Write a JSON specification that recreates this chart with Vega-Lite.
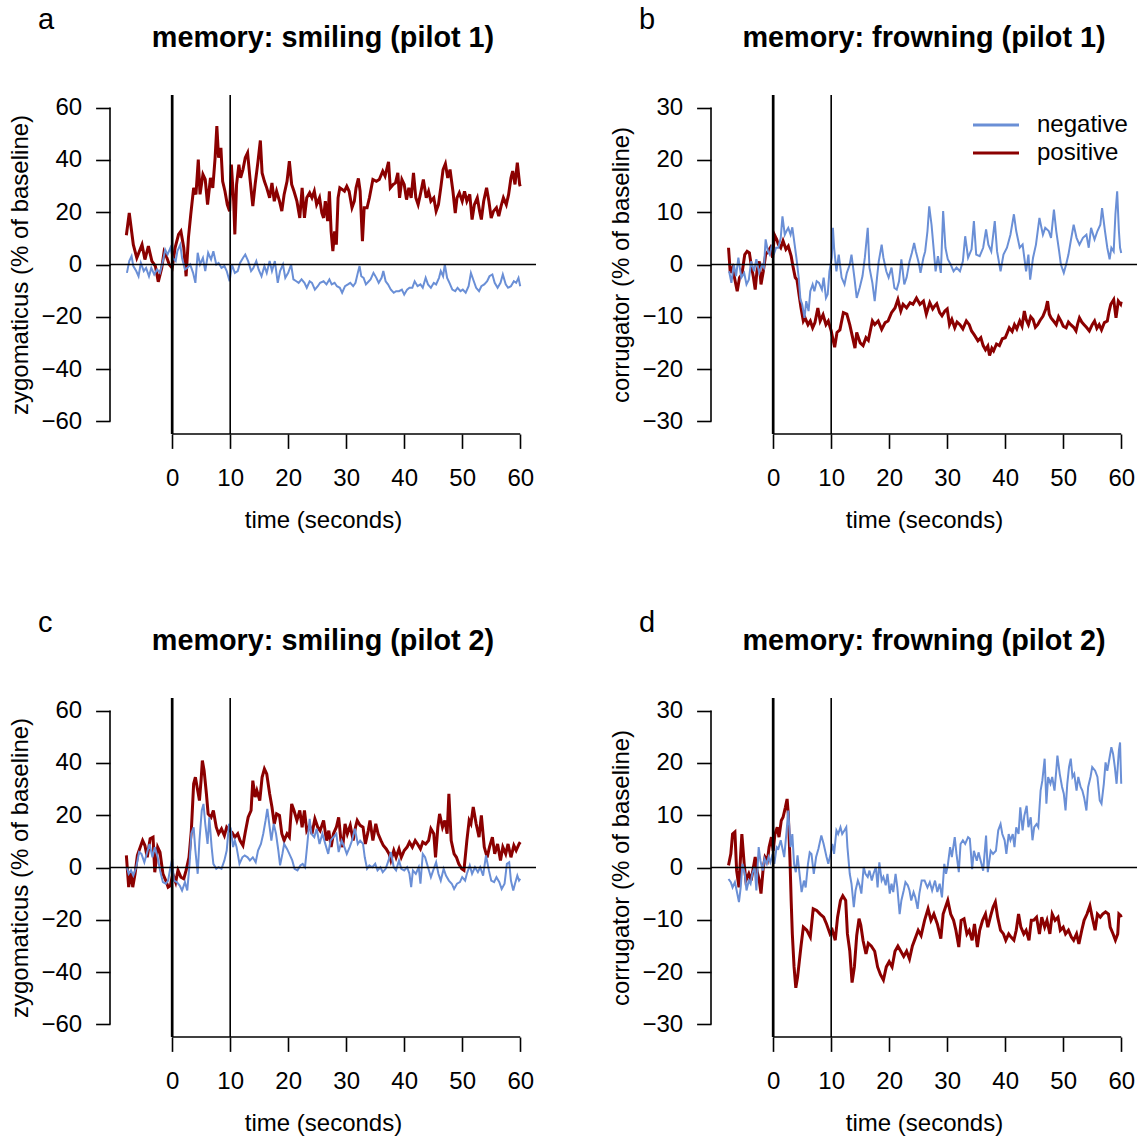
{
"$schema":"https://vega.github.io/schema/vega-lite/v6.json",
"background":"white",
"padding":{"left":8,"top":5,"right":0,"bottom":0},
"config":{
 "font":"Liberation Sans",
 "view":{"stroke":null},
 "axis":{"grid":false,"domain":false,"ticks":true,"tickColor":"black","tickWidth":1.6,"tickSize":14.4,"labelColor":"black","labelFontSize":24,"labelFont":"Liberation Sans","titleColor":"black","titleFontSize":24,"titleFontWeight":"normal","titleFont":"Liberation Sans","labelOverlap":false,"labelFlush":false},
 "axisX":{"labelPadding":18,"titlePadding":18},
 "axisY":{"labelPadding":14,"titlePadding":8}
},
"datasets":{
"aP":[{"t":-7.9,"v":11.2},{"t":-7.4,"v":19.7},{"t":-6.7,"v":7.6},{"t":-6.1,"v":2.5},{"t":-5.2,"v":7.6},{"t":-4.7,"v":1.9},{"t":-4.1,"v":7},{"t":-3.5,"v":1.3},{"t":-2.9,"v":-0.6},{"t":-2.4,"v":-6.6},{"t":-1.8,"v":-1.3},{"t":-1.4,"v":4.8},{"t":-0.9,"v":2.5},{"t":-0.5,"v":0},{"t":0,"v":-1.3},{"t":0.5,"v":6.4},{"t":1.1,"v":11.5},{"t":1.5,"v":12.7},{"t":2.0,"v":6.4},{"t":2.4,"v":-4.5},{"t":2.8,"v":10.2},{"t":3.2,"v":19.1},{"t":3.7,"v":29.3},{"t":4.1,"v":26.8},{"t":4.5,"v":40.1},{"t":4.8,"v":26.8},{"t":5.3,"v":34.4},{"t":5.7,"v":32.5},{"t":6.1,"v":22.9},{"t":6.6,"v":33.1},{"t":7.0,"v":29.3},{"t":7.4,"v":40.8},{"t":7.7,"v":52.9},{"t":8.0,"v":40.8},{"t":8.4,"v":44.6},{"t":8.7,"v":31.8},{"t":9.1,"v":28},{"t":9.5,"v":22.9},{"t":9.9,"v":20.4},{"t":10.2,"v":38.2},{"t":10.6,"v":24.2},{"t":10.8,"v":11.5},{"t":11.1,"v":30.6},{"t":11.5,"v":38.2},{"t":11.8,"v":33.1},{"t":12.2,"v":36.3},{"t":12.6,"v":40.8},{"t":13.0,"v":42.7},{"t":13.4,"v":33.1},{"t":13.9,"v":22.3},{"t":14.3,"v":30.6},{"t":14.8,"v":39.5},{"t":15.2,"v":47.4},{"t":15.5,"v":35},{"t":15.9,"v":31.8},{"t":16.3,"v":29.3},{"t":16.8,"v":25.5},{"t":17.2,"v":31.2},{"t":17.6,"v":24.2},{"t":18.0,"v":28},{"t":18.5,"v":24.2},{"t":18.9,"v":20.4},{"t":19.3,"v":26.8},{"t":19.8,"v":31.8},{"t":20.2,"v":39.5},{"t":20.6,"v":30.6},{"t":21.0,"v":28},{"t":21.5,"v":24.2},{"t":22.0,"v":17.8},{"t":22.4,"v":29.3},{"t":22.8,"v":17.8},{"t":23.2,"v":25.5},{"t":23.7,"v":27.4},{"t":24.1,"v":25.5},{"t":24.5,"v":28},{"t":24.9,"v":22.9},{"t":25.4,"v":25.5},{"t":25.8,"v":19.7},{"t":26.1,"v":17.8},{"t":26.4,"v":24.2},{"t":26.8,"v":16.6},{"t":27.1,"v":28},{"t":27.4,"v":12.7},{"t":27.7,"v":5.1},{"t":28.0,"v":12.7},{"t":28.3,"v":7.6},{"t":28.6,"v":25.5},{"t":28.9,"v":29.3},{"t":29.3,"v":28.7},{"t":29.7,"v":28},{"t":30.1,"v":29.9},{"t":30.5,"v":28},{"t":31.0,"v":21.7},{"t":31.4,"v":24.2},{"t":31.7,"v":29.3},{"t":32.1,"v":32.9},{"t":32.4,"v":28},{"t":32.8,"v":8.9},{"t":33.1,"v":21.7},{"t":33.6,"v":21.7},{"t":34.0,"v":25.5},{"t":34.6,"v":32.5},{"t":35.2,"v":31.8},{"t":35.7,"v":32.5},{"t":36.3,"v":35.7},{"t":36.7,"v":33.8},{"t":37.3,"v":39.2},{"t":37.6,"v":29.3},{"t":38.1,"v":30.6},{"t":38.5,"v":31.2},{"t":38.9,"v":35},{"t":39.2,"v":25.5},{"t":39.6,"v":32.5},{"t":40.0,"v":30.6},{"t":40.4,"v":24.8},{"t":40.8,"v":29.3},{"t":41.2,"v":25.5},{"t":41.6,"v":35},{"t":42.0,"v":25.5},{"t":42.4,"v":22.9},{"t":42.9,"v":28},{"t":43.3,"v":32.5},{"t":43.8,"v":25.5},{"t":44.2,"v":28},{"t":44.6,"v":24.2},{"t":45.1,"v":25.5},{"t":45.5,"v":20.4},{"t":45.9,"v":22.9},{"t":46.3,"v":29.3},{"t":46.7,"v":36.3},{"t":47.1,"v":38.5},{"t":47.5,"v":33.1},{"t":47.9,"v":36.3},{"t":48.4,"v":28},{"t":48.8,"v":19.7},{"t":49.1,"v":25.5},{"t":49.5,"v":27.4},{"t":50.0,"v":24.2},{"t":50.4,"v":28},{"t":50.8,"v":24.2},{"t":51.3,"v":26.8},{"t":51.7,"v":17.2},{"t":52.1,"v":22.9},{"t":52.6,"v":25.5},{"t":53.0,"v":20.4},{"t":53.3,"v":17.2},{"t":53.7,"v":24.2},{"t":54.2,"v":29.3},{"t":54.6,"v":24.2},{"t":55.0,"v":17.8},{"t":55.4,"v":20.4},{"t":55.9,"v":21.7},{"t":56.3,"v":18.5},{"t":56.7,"v":22.3},{"t":57.1,"v":25.5},{"t":57.6,"v":22.9},{"t":58.0,"v":26.8},{"t":58.4,"v":33.1},{"t":58.7,"v":35.7},{"t":59.1,"v":30.6},{"t":59.5,"v":38.9},{"t":59.9,"v":30.6},{"t":60.0,"v":29.9}],
"aN":[{"t":-7.8,"v":-3.2},{"t":-7.4,"v":1.3},{"t":-7.0,"v":3.2},{"t":-6.7,"v":-0.6},{"t":-6.2,"v":-2.5},{"t":-5.8,"v":-4.5},{"t":-5.4,"v":0.6},{"t":-4.9,"v":-2.5},{"t":-4.5,"v":-1.3},{"t":-4.0,"v":-4.5},{"t":-3.6,"v":-1.3},{"t":-3.1,"v":-3.8},{"t":-2.6,"v":-1.9},{"t":-2.1,"v":-3.2},{"t":-1.6,"v":1.3},{"t":-1.2,"v":5.7},{"t":-0.8,"v":3.8},{"t":-0.3,"v":6.4},{"t":0.1,"v":2.5},{"t":0.6,"v":1.3},{"t":0.9,"v":5.1},{"t":1.4,"v":7.6},{"t":1.7,"v":2.5},{"t":2.2,"v":-1.9},{"t":2.6,"v":-1.3},{"t":3.1,"v":0},{"t":3.6,"v":-3.2},{"t":4.0,"v":-7},{"t":4.4,"v":4.5},{"t":4.8,"v":0},{"t":5.3,"v":2.5},{"t":5.7,"v":-2.5},{"t":6.2,"v":4.5},{"t":6.7,"v":1.9},{"t":7.1,"v":5.1},{"t":7.6,"v":0},{"t":8.0,"v":0.6},{"t":8.5,"v":-1.3},{"t":9.0,"v":-0.6},{"t":9.4,"v":-2.5},{"t":9.9,"v":-6.4},{"t":10.3,"v":0},{"t":10.8,"v":-3.2},{"t":11.3,"v":-2.5},{"t":11.7,"v":0.6},{"t":12.2,"v":2.5},{"t":12.6,"v":3.8},{"t":13.1,"v":1.3},{"t":13.6,"v":-2.5},{"t":14.0,"v":-1.3},{"t":14.5,"v":1.3},{"t":14.9,"v":-1.9},{"t":15.4,"v":-4.5},{"t":15.9,"v":-0.6},{"t":16.3,"v":-3.2},{"t":16.8,"v":1.3},{"t":17.2,"v":-2.5},{"t":17.7,"v":1.3},{"t":18.2,"v":-7},{"t":18.6,"v":-2.5},{"t":19.1,"v":0},{"t":19.5,"v":-5.1},{"t":20.0,"v":-3.2},{"t":20.5,"v":0},{"t":20.9,"v":-5.7},{"t":21.4,"v":-6.4},{"t":21.8,"v":-7},{"t":22.3,"v":-5.7},{"t":22.8,"v":-7},{"t":23.2,"v":-8.9},{"t":23.7,"v":-6.4},{"t":24.1,"v":-7},{"t":24.6,"v":-9.6},{"t":25.1,"v":-8.3},{"t":25.5,"v":-7},{"t":26.1,"v":-6.4},{"t":26.6,"v":-7.6},{"t":27.1,"v":-5.7},{"t":27.5,"v":-7.6},{"t":28.0,"v":-7},{"t":28.4,"v":-8.3},{"t":28.9,"v":-8.9},{"t":29.3,"v":-10.8},{"t":29.8,"v":-8.3},{"t":30.3,"v":-7.6},{"t":30.7,"v":-7},{"t":31.2,"v":-8.3},{"t":31.6,"v":-7},{"t":32.0,"v":-3.2},{"t":32.3,"v":-0.6},{"t":32.6,"v":-4.5},{"t":33.0,"v":-5.1},{"t":33.4,"v":-7.6},{"t":33.9,"v":-6.4},{"t":34.2,"v":-5.7},{"t":34.7,"v":-3.2},{"t":35.2,"v":-5.1},{"t":35.6,"v":-7},{"t":36.1,"v":-5.1},{"t":36.4,"v":-2.5},{"t":36.8,"v":-6.4},{"t":37.2,"v":-7.6},{"t":37.7,"v":-9.6},{"t":38.2,"v":-10.8},{"t":38.6,"v":-10.2},{"t":39.1,"v":-10.2},{"t":39.6,"v":-9.6},{"t":40.0,"v":-11.5},{"t":40.5,"v":-9.6},{"t":40.9,"v":-8.9},{"t":41.4,"v":-8.9},{"t":41.8,"v":-6.4},{"t":42.3,"v":-8.3},{"t":42.8,"v":-7.6},{"t":43.2,"v":-8.9},{"t":43.7,"v":-5.1},{"t":44.1,"v":-7.6},{"t":44.6,"v":-8.9},{"t":45.1,"v":-7},{"t":45.5,"v":-7.6},{"t":46.0,"v":-5.1},{"t":46.3,"v":-2.5},{"t":46.7,"v":-4.5},{"t":47.0,"v":0},{"t":47.4,"v":-5.1},{"t":47.8,"v":-7},{"t":48.3,"v":-9.6},{"t":48.8,"v":-10.2},{"t":49.2,"v":-8.9},{"t":49.7,"v":-10.2},{"t":50.1,"v":-9.6},{"t":50.6,"v":-10.8},{"t":51.1,"v":-8.3},{"t":51.5,"v":-3.2},{"t":52.0,"v":-6.4},{"t":52.4,"v":-8.9},{"t":52.9,"v":-10.2},{"t":53.3,"v":-8.3},{"t":53.8,"v":-7.6},{"t":54.3,"v":-6.4},{"t":54.7,"v":-4.5},{"t":55.2,"v":-3.8},{"t":55.6,"v":-7},{"t":56.1,"v":-8.9},{"t":56.6,"v":-7},{"t":57.0,"v":-3.8},{"t":57.5,"v":-7.6},{"t":57.9,"v":-8.9},{"t":58.4,"v":-8.3},{"t":58.9,"v":-6.4},{"t":59.3,"v":-7},{"t":59.7,"v":-5.1},{"t":60.0,"v":-8.3}],
"bP":[{"t":-7.7,"v":3.2},{"t":-7.4,"v":-1.6},{"t":-7.0,"v":-0.6},{"t":-6.6,"v":-2.9},{"t":-6.2,"v":-5.1},{"t":-5.8,"v":-2.5},{"t":-5.4,"v":-1.9},{"t":-4.9,"v":1.9},{"t":-4.5,"v":2.5},{"t":-4.1,"v":2.2},{"t":-3.8,"v":0},{"t":-3.4,"v":-2.5},{"t":-3.1,"v":-4.8},{"t":-2.8,"v":-1.3},{"t":-2.4,"v":0.6},{"t":-2.1,"v":-3.8},{"t":-1.7,"v":-1.3},{"t":-1.3,"v":1.9},{"t":-0.9,"v":2.5},{"t":-0.5,"v":3.2},{"t":-0.1,"v":1.3},{"t":0.2,"v":5.7},{"t":0.6,"v":4.8},{"t":0.9,"v":3.8},{"t":1.3,"v":3.2},{"t":1.7,"v":4.5},{"t":2.2,"v":2.9},{"t":2.6,"v":3.5},{"t":3.1,"v":1.6},{"t":3.4,"v":-0.3},{"t":3.8,"v":-2.5},{"t":4.1,"v":-2.9},{"t":4.5,"v":-6.1},{"t":4.8,"v":-8.3},{"t":5.2,"v":-10.8},{"t":5.5,"v":-10.2},{"t":6.0,"v":-11.5},{"t":6.4,"v":-10.8},{"t":6.8,"v":-12.1},{"t":7.2,"v":-11.1},{"t":7.7,"v":-8.3},{"t":8.1,"v":-10.8},{"t":8.6,"v":-9.6},{"t":9.1,"v":-11.5},{"t":9.5,"v":-10.8},{"t":10.0,"v":-12.7},{"t":10.3,"v":-14.3},{"t":10.6,"v":-15.8},{"t":11.0,"v":-13},{"t":11.5,"v":-12.5},{"t":12.1,"v":-9.2},{"t":12.7,"v":-9.5},{"t":13.2,"v":-11.5},{"t":13.8,"v":-14.5},{"t":14.1,"v":-16},{"t":14.4,"v":-13},{"t":15.0,"v":-15},{"t":15.5,"v":-15.5},{"t":16.0,"v":-14},{"t":16.4,"v":-14.5},{"t":17.1,"v":-10.8},{"t":17.5,"v":-11.5},{"t":18.1,"v":-10.8},{"t":18.7,"v":-12.4},{"t":19.3,"v":-11.1},{"t":19.8,"v":-10.8},{"t":20.4,"v":-9.2},{"t":21.0,"v":-8.3},{"t":21.5,"v":-6.7},{"t":22.0,"v":-8.9},{"t":22.4,"v":-7.6},{"t":23.0,"v":-8.3},{"t":23.6,"v":-7.3},{"t":24.1,"v":-7.6},{"t":24.7,"v":-6.4},{"t":25.3,"v":-7.6},{"t":25.9,"v":-7},{"t":26.4,"v":-9.5},{"t":27.0,"v":-7.3},{"t":27.5,"v":-8.5},{"t":27.8,"v":-8},{"t":28.2,"v":-7.5},{"t":28.7,"v":-9.2},{"t":29.1,"v":-9.8},{"t":29.6,"v":-8.9},{"t":30.0,"v":-8.5},{"t":30.4,"v":-11.5},{"t":30.8,"v":-10.5},{"t":31.3,"v":-12.1},{"t":31.7,"v":-11},{"t":32.2,"v":-11.5},{"t":32.7,"v":-12.3},{"t":33.3,"v":-10.8},{"t":33.8,"v":-11.5},{"t":34.2,"v":-12.7},{"t":34.7,"v":-13.5},{"t":35.3,"v":-14.6},{"t":35.8,"v":-14},{"t":36.2,"v":-15.5},{"t":36.6,"v":-16.3},{"t":37.0,"v":-15.6},{"t":37.3,"v":-17.4},{"t":37.7,"v":-16},{"t":38.0,"v":-16.5},{"t":38.5,"v":-15.2},{"t":39.0,"v":-15.5},{"t":39.5,"v":-14.2},{"t":40.0,"v":-14},{"t":40.3,"v":-13.2},{"t":40.7,"v":-12.1},{"t":41.2,"v":-12.8},{"t":41.6,"v":-11.5},{"t":42.0,"v":-12.3},{"t":42.5,"v":-10.8},{"t":42.9,"v":-11.8},{"t":43.3,"v":-8.9},{"t":43.6,"v":-10.5},{"t":44.0,"v":-11.5},{"t":44.4,"v":-10},{"t":44.8,"v":-10.5},{"t":45.2,"v":-12},{"t":45.6,"v":-11.5},{"t":46.0,"v":-10.7},{"t":46.5,"v":-9.9},{"t":47.0,"v":-8.5},{"t":47.3,"v":-7},{"t":47.6,"v":-9.5},{"t":47.9,"v":-10.2},{"t":48.4,"v":-10.9},{"t":48.8,"v":-11.5},{"t":49.2,"v":-10},{"t":49.6,"v":-10.8},{"t":50.0,"v":-11.8},{"t":50.5,"v":-12.1},{"t":50.9,"v":-11},{"t":51.3,"v":-11.5},{"t":51.8,"v":-12},{"t":52.2,"v":-12.7},{"t":52.5,"v":-11.3},{"t":52.8,"v":-10.2},{"t":53.2,"v":-11},{"t":53.6,"v":-11.5},{"t":54.0,"v":-12},{"t":54.5,"v":-12.7},{"t":55.0,"v":-11.5},{"t":55.4,"v":-10.8},{"t":55.8,"v":-12.2},{"t":56.2,"v":-11.5},{"t":56.6,"v":-12.5},{"t":57.1,"v":-11.1},{"t":57.6,"v":-10.8},{"t":57.9,"v":-9},{"t":58.2,"v":-7.6},{"t":58.7,"v":-6.7},{"t":59.1,"v":-10.2},{"t":59.5,"v":-7},{"t":59.9,"v":-7.6},{"t":60.0,"v":-7.1}],
"bN":[{"t":-7.6,"v":-1.3},{"t":-7.2,"v":-3.5},{"t":-6.8,"v":0},{"t":-6.4,"v":-2.2},{"t":-6.0,"v":1.3},{"t":-5.5,"v":-2.5},{"t":-5.0,"v":-1.6},{"t":-4.6,"v":-3.8},{"t":-4.2,"v":-2.9},{"t":-3.8,"v":0.6},{"t":-3.3,"v":-1.3},{"t":-2.9,"v":1},{"t":-2.4,"v":-1.6},{"t":-1.9,"v":0},{"t":-1.6,"v":-0.6},{"t":-1.3,"v":4.8},{"t":-0.9,"v":2.5},{"t":-0.6,"v":1.9},{"t":-0.2,"v":3.8},{"t":0.1,"v":1.9},{"t":0.5,"v":3.2},{"t":0.9,"v":3.2},{"t":1.3,"v":5.1},{"t":1.6,"v":9.2},{"t":2.0,"v":5.7},{"t":2.3,"v":6.4},{"t":2.6,"v":7},{"t":3.0,"v":5.7},{"t":3.3,"v":7.1},{"t":3.7,"v":3.8},{"t":4.0,"v":1.3},{"t":4.4,"v":-2.5},{"t":4.7,"v":-6.7},{"t":5.0,"v":-7.6},{"t":5.4,"v":-10.2},{"t":5.7,"v":-7},{"t":6.1,"v":-8.9},{"t":6.4,"v":-5.1},{"t":6.8,"v":-3.8},{"t":7.1,"v":-5.1},{"t":7.5,"v":-3.2},{"t":7.9,"v":-3.5},{"t":8.4,"v":-4.8},{"t":8.7,"v":-2.5},{"t":9.1,"v":-6.4},{"t":9.4,"v":-5.7},{"t":9.7,"v":-1.3},{"t":10.1,"v":1.3},{"t":10.3,"v":7},{"t":10.5,"v":3.2},{"t":10.9,"v":-1.3},{"t":11.3,"v":1.9},{"t":11.8,"v":-2.5},{"t":12.3,"v":-3.8},{"t":12.7,"v":-1.6},{"t":13.2,"v":0},{"t":13.5,"v":1.9},{"t":14.0,"v":-2.5},{"t":14.4,"v":-6.4},{"t":14.9,"v":-4.5},{"t":15.4,"v":-2.2},{"t":15.8,"v":1.3},{"t":16.3,"v":7},{"t":16.6,"v":-0.6},{"t":17.1,"v":-3.5},{"t":17.5,"v":-7},{"t":17.9,"v":-2.5},{"t":18.2,"v":0.6},{"t":18.7,"v":3.8},{"t":19.0,"v":1.3},{"t":19.5,"v":-1.3},{"t":19.9,"v":-2.5},{"t":20.4,"v":-0.6},{"t":20.9,"v":-4.5},{"t":21.3,"v":-4.8},{"t":21.7,"v":-3.2},{"t":22.1,"v":1},{"t":22.6,"v":-3.8},{"t":23.0,"v":-2.5},{"t":23.5,"v":0.6},{"t":23.9,"v":2.2},{"t":24.3,"v":4.1},{"t":24.6,"v":2.5},{"t":25.1,"v":0.3},{"t":25.4,"v":-1.6},{"t":25.9,"v":1.3},{"t":26.2,"v":2.5},{"t":26.6,"v":6.4},{"t":26.9,"v":11.1},{"t":27.3,"v":7.6},{"t":27.6,"v":3.8},{"t":28.0,"v":-1.3},{"t":28.4,"v":1.6},{"t":28.9,"v":-1.6},{"t":29.3,"v":10.2},{"t":29.7,"v":3.2},{"t":30.1,"v":1},{"t":30.6,"v":0},{"t":31.1,"v":-1.3},{"t":31.6,"v":-0.6},{"t":32.2,"v":-1.3},{"t":32.7,"v":0.6},{"t":33.1,"v":5.4},{"t":33.6,"v":1.3},{"t":34.2,"v":2.9},{"t":34.6,"v":8.3},{"t":35.0,"v":1.9},{"t":35.6,"v":1.6},{"t":36.2,"v":3.2},{"t":36.7,"v":6.7},{"t":37.1,"v":3.8},{"t":37.6,"v":2.5},{"t":38.2,"v":8.3},{"t":38.6,"v":2.5},{"t":39.2,"v":-1.3},{"t":39.7,"v":1.9},{"t":40.3,"v":3.2},{"t":40.9,"v":5.7},{"t":41.5,"v":9.6},{"t":41.9,"v":6.4},{"t":42.5,"v":3.2},{"t":43.0,"v":3.8},{"t":43.6,"v":-1.3},{"t":44.0,"v":1.9},{"t":44.3,"v":-2.9},{"t":44.8,"v":1.3},{"t":45.3,"v":3.8},{"t":45.9,"v":8.9},{"t":46.5,"v":5.7},{"t":46.9,"v":7},{"t":47.5,"v":6.4},{"t":47.9,"v":5.1},{"t":48.4,"v":10.5},{"t":48.8,"v":6.4},{"t":49.3,"v":2.5},{"t":49.6,"v":0},{"t":50.1,"v":-1.6},{"t":50.5,"v":0},{"t":50.9,"v":1.9},{"t":51.3,"v":4.5},{"t":51.8,"v":7.6},{"t":52.3,"v":5.1},{"t":52.8,"v":3.8},{"t":53.4,"v":5.1},{"t":54.0,"v":5.7},{"t":54.4,"v":3.2},{"t":54.8,"v":7},{"t":55.4,"v":4.8},{"t":55.9,"v":6.4},{"t":56.4,"v":7.6},{"t":56.7,"v":10.8},{"t":57.2,"v":6.4},{"t":57.6,"v":3.2},{"t":58.0,"v":1},{"t":58.3,"v":3.2},{"t":58.7,"v":2.5},{"t":59.0,"v":9.6},{"t":59.3,"v":14},{"t":59.6,"v":6.4},{"t":59.8,"v":3.2},{"t":60.0,"v":2.2}],
"cP":[{"t":-7.9,"v":4.6},{"t":-7.5,"v":-7.5},{"t":-7.1,"v":-1.8},{"t":-6.8,"v":-7.5},{"t":-6.4,"v":-2.4},{"t":-6.0,"v":4.6},{"t":-5.5,"v":7.8},{"t":-5.1,"v":10.3},{"t":-4.7,"v":8.4},{"t":-4.3,"v":3.9},{"t":-3.8,"v":11},{"t":-3.3,"v":11.6},{"t":-3.0,"v":-1.8},{"t":-2.5,"v":7.8},{"t":-2.1,"v":5.9},{"t":-1.6,"v":-2.4},{"t":-1.1,"v":-5},{"t":-0.7,"v":-7.5},{"t":-0.3,"v":-6.9},{"t":0.1,"v":-2.4},{"t":0.6,"v":-5.6},{"t":1.0,"v":-1.1},{"t":1.5,"v":-3.7},{"t":2.0,"v":-4.3},{"t":2.4,"v":-1.1},{"t":2.9,"v":3.9},{"t":3.3,"v":14.1},{"t":3.7,"v":32},{"t":4.0,"v":34.5},{"t":4.4,"v":29.4},{"t":4.7,"v":25.6},{"t":5.0,"v":33.9},{"t":5.2,"v":40.9},{"t":5.5,"v":37.1},{"t":5.9,"v":28.2},{"t":6.2,"v":20.5},{"t":6.7,"v":19.2},{"t":7.1,"v":21.8},{"t":7.6,"v":15.4},{"t":8.0,"v":12.9},{"t":8.5,"v":14.8},{"t":9.0,"v":12.2},{"t":9.4,"v":15.4},{"t":9.9,"v":14.1},{"t":10.3,"v":13.5},{"t":10.8,"v":11.6},{"t":11.3,"v":12.9},{"t":11.7,"v":10.3},{"t":12.2,"v":8.4},{"t":12.6,"v":13.5},{"t":13.1,"v":19.2},{"t":13.6,"v":21.8},{"t":13.9,"v":33.2},{"t":14.3,"v":26.9},{"t":14.6,"v":29.4},{"t":15.1,"v":25.6},{"t":15.5,"v":34.5},{"t":15.9,"v":37.7},{"t":16.3,"v":35.8},{"t":16.8,"v":28.2},{"t":17.2,"v":23.1},{"t":17.6,"v":16.7},{"t":18.0,"v":20.5},{"t":18.5,"v":19.9},{"t":18.9,"v":12.9},{"t":19.3,"v":10.3},{"t":19.8,"v":12.9},{"t":20.2,"v":11.6},{"t":20.6,"v":24.3},{"t":21.0,"v":21.8},{"t":21.5,"v":18},{"t":22.0,"v":21.8},{"t":22.4,"v":15.4},{"t":22.8,"v":21.8},{"t":23.2,"v":14.1},{"t":23.7,"v":16.1},{"t":24.1,"v":12.9},{"t":24.6,"v":18.6},{"t":25.1,"v":15.4},{"t":25.5,"v":14.1},{"t":26.1,"v":18},{"t":26.6,"v":10.3},{"t":27.0,"v":14.1},{"t":27.4,"v":7.8},{"t":27.8,"v":12.9},{"t":28.3,"v":15.4},{"t":28.7,"v":19.2},{"t":29.1,"v":10.3},{"t":29.4,"v":7.8},{"t":29.8,"v":16.7},{"t":30.2,"v":12.9},{"t":30.7,"v":16.1},{"t":31.2,"v":10.3},{"t":31.6,"v":15.4},{"t":31.9,"v":18},{"t":32.4,"v":16.1},{"t":32.9,"v":15.4},{"t":33.3,"v":9},{"t":33.8,"v":14.1},{"t":34.1,"v":18},{"t":34.6,"v":10.3},{"t":35.1,"v":16.7},{"t":35.5,"v":12.9},{"t":36.0,"v":10.3},{"t":36.4,"v":8.4},{"t":36.9,"v":7.1},{"t":37.4,"v":5.2},{"t":37.7,"v":2.7},{"t":38.2,"v":6.5},{"t":38.6,"v":3.9},{"t":39.1,"v":7.1},{"t":39.5,"v":3.9},{"t":40.0,"v":6.5},{"t":40.5,"v":7.8},{"t":40.9,"v":9.7},{"t":41.4,"v":7.8},{"t":41.9,"v":10.3},{"t":42.3,"v":9},{"t":42.8,"v":7.1},{"t":43.2,"v":9.7},{"t":43.7,"v":9},{"t":44.2,"v":10.3},{"t":44.6,"v":14.8},{"t":45.1,"v":12.9},{"t":45.4,"v":3.9},{"t":45.8,"v":15.4},{"t":46.1,"v":20.5},{"t":46.6,"v":15.4},{"t":47.0,"v":18},{"t":47.4,"v":12.9},{"t":47.7,"v":28.2},{"t":48.1,"v":10.3},{"t":48.6,"v":5.2},{"t":49.0,"v":3.9},{"t":49.4,"v":1.4},{"t":49.9,"v":-0.5},{"t":50.3,"v":-1.1},{"t":50.8,"v":10.3},{"t":51.2,"v":18},{"t":51.5,"v":16.7},{"t":51.9,"v":23.1},{"t":52.4,"v":16.7},{"t":52.9,"v":11.6},{"t":53.3,"v":19.9},{"t":53.8,"v":7.8},{"t":54.3,"v":3.9},{"t":54.7,"v":7.8},{"t":55.2,"v":11.6},{"t":55.6,"v":5.2},{"t":56.1,"v":9},{"t":56.6,"v":2.7},{"t":57.0,"v":7.8},{"t":57.5,"v":5.2},{"t":57.9,"v":9},{"t":58.4,"v":3.9},{"t":58.9,"v":8.4},{"t":59.3,"v":6.5},{"t":59.8,"v":9},{"t":60.0,"v":9.7}],
"cN":[{"t":-7.8,"v":0.1},{"t":-7.5,"v":-2.4},{"t":-7.1,"v":-1.1},{"t":-6.7,"v":-3.1},{"t":-6.2,"v":0.1},{"t":-5.7,"v":5.9},{"t":-5.3,"v":5.2},{"t":-4.8,"v":2},{"t":-4.4,"v":5.2},{"t":-3.9,"v":9},{"t":-3.4,"v":3.9},{"t":-3.0,"v":7.8},{"t":-2.5,"v":3.9},{"t":-2.1,"v":-1.1},{"t":-1.6,"v":-5.6},{"t":-1.1,"v":-6.2},{"t":-0.7,"v":-5},{"t":-0.3,"v":0.1},{"t":0,"v":3.3},{"t":0.3,"v":-5},{"t":0.8,"v":-5.6},{"t":1.3,"v":-6.9},{"t":1.7,"v":-8.8},{"t":2.2,"v":-5.6},{"t":2.6,"v":-8.8},{"t":3.0,"v":1.4},{"t":3.3,"v":12.9},{"t":3.7,"v":15.4},{"t":4.0,"v":6.5},{"t":4.4,"v":-2.4},{"t":4.7,"v":10.3},{"t":5.1,"v":21.8},{"t":5.4,"v":24.3},{"t":5.7,"v":16.7},{"t":6.1,"v":9},{"t":6.4,"v":19.2},{"t":6.8,"v":7.8},{"t":7.1,"v":1.4},{"t":7.6,"v":-0.5},{"t":8.0,"v":0.1},{"t":8.5,"v":-0.5},{"t":9.0,"v":2.7},{"t":9.4,"v":6.5},{"t":9.8,"v":16.7},{"t":10.1,"v":14.8},{"t":10.5,"v":7.8},{"t":10.8,"v":10.3},{"t":11.1,"v":7.8},{"t":11.6,"v":1.4},{"t":12.1,"v":3.9},{"t":12.5,"v":4.6},{"t":13.0,"v":3.9},{"t":13.4,"v":2.7},{"t":13.9,"v":3.9},{"t":14.4,"v":2},{"t":14.8,"v":6.5},{"t":15.3,"v":9},{"t":15.7,"v":12.9},{"t":16.1,"v":18},{"t":16.4,"v":22.4},{"t":16.8,"v":15.4},{"t":17.1,"v":10.3},{"t":17.5,"v":16.7},{"t":17.9,"v":12.9},{"t":18.3,"v":6.5},{"t":18.6,"v":0.8},{"t":19.0,"v":5.2},{"t":19.3,"v":9},{"t":19.8,"v":7.1},{"t":20.2,"v":5.2},{"t":20.7,"v":2.7},{"t":21.1,"v":-0.5},{"t":21.6,"v":-1.1},{"t":22.1,"v":0.8},{"t":22.5,"v":1.4},{"t":22.9,"v":0.1},{"t":23.3,"v":9},{"t":23.7,"v":18.6},{"t":24.0,"v":12.9},{"t":24.5,"v":11.6},{"t":24.9,"v":14.8},{"t":25.4,"v":9},{"t":25.9,"v":12.9},{"t":26.4,"v":9},{"t":26.9,"v":5.2},{"t":27.3,"v":10.3},{"t":27.8,"v":11.6},{"t":28.3,"v":12.9},{"t":28.7,"v":5.9},{"t":29.2,"v":10.3},{"t":29.7,"v":7.8},{"t":30.1,"v":5.2},{"t":30.6,"v":7.8},{"t":31.0,"v":10.3},{"t":31.5,"v":14.8},{"t":32.0,"v":9},{"t":32.4,"v":10.3},{"t":32.9,"v":9},{"t":33.2,"v":3.9},{"t":33.6,"v":-0.5},{"t":34.0,"v":0.8},{"t":34.5,"v":0.1},{"t":35.0,"v":1.4},{"t":35.4,"v":-1.1},{"t":35.9,"v":0.1},{"t":36.3,"v":-1.8},{"t":36.8,"v":-0.5},{"t":37.3,"v":2.7},{"t":37.7,"v":5.9},{"t":38.2,"v":0.1},{"t":38.6,"v":-1.1},{"t":39.1,"v":2.7},{"t":39.5,"v":-0.5},{"t":40.0,"v":-1.1},{"t":40.5,"v":0.1},{"t":40.9,"v":-2.4},{"t":41.2,"v":-7.5},{"t":41.5,"v":-1.1},{"t":42.0,"v":-2.4},{"t":42.5,"v":0.1},{"t":42.8,"v":-6.2},{"t":43.2,"v":5.2},{"t":43.6,"v":3.9},{"t":44.1,"v":0.1},{"t":44.6,"v":-3.7},{"t":45.0,"v":-1.1},{"t":45.5,"v":2},{"t":45.9,"v":-2.4},{"t":46.3,"v":-5},{"t":46.8,"v":-0.5},{"t":47.2,"v":-3.1},{"t":47.7,"v":-5},{"t":48.2,"v":-6.2},{"t":48.6,"v":-8.2},{"t":49.1,"v":-6.2},{"t":49.6,"v":-5.6},{"t":50.0,"v":-3.7},{"t":50.5,"v":-5},{"t":50.8,"v":-2.4},{"t":51.3,"v":0.8},{"t":51.7,"v":-2.4},{"t":52.2,"v":0.1},{"t":52.7,"v":-1.8},{"t":53.1,"v":0.1},{"t":53.6,"v":-3.1},{"t":54.1,"v":4.6},{"t":54.6,"v":-1.1},{"t":55.0,"v":-5},{"t":55.5,"v":-5.6},{"t":55.9,"v":-3.7},{"t":56.4,"v":-5.6},{"t":56.8,"v":-8.2},{"t":57.3,"v":-6.2},{"t":57.7,"v":1.4},{"t":58.1,"v":2},{"t":58.4,"v":-5},{"t":58.8,"v":-8.8},{"t":59.1,"v":-6.2},{"t":59.5,"v":-3.1},{"t":59.8,"v":-5},{"t":60.0,"v":-4.3}],
"dP":[{"t":-7.7,"v":0.4},{"t":-7.3,"v":2.6},{"t":-7.0,"v":6.4},{"t":-6.6,"v":6.8},{"t":-6.3,"v":-0.6},{"t":-5.9,"v":-3.8},{"t":-5.6,"v":2.6},{"t":-5.4,"v":6.4},{"t":-5.0,"v":0.7},{"t":-4.7,"v":-2.5},{"t":-4.2,"v":-1.2},{"t":-3.8,"v":-2.5},{"t":-3.4,"v":0.1},{"t":-3.1,"v":2},{"t":-2.8,"v":-0.6},{"t":-2.4,"v":-2.5},{"t":-2.1,"v":-5},{"t":-1.7,"v":0.1},{"t":-1.4,"v":2},{"t":-1.0,"v":1.3},{"t":-0.7,"v":3.9},{"t":-0.3,"v":5.8},{"t":0,"v":3.2},{"t":0.3,"v":6.4},{"t":0.7,"v":7.7},{"t":1.0,"v":5.8},{"t":1.4,"v":9},{"t":1.7,"v":9.6},{"t":2.1,"v":11.5},{"t":2.4,"v":13.1},{"t":2.6,"v":10.3},{"t":2.9,"v":1.3},{"t":3.1,"v":-6.3},{"t":3.3,"v":-12.7},{"t":3.6,"v":-19},{"t":3.9,"v":-23},{"t":4.2,"v":-21},{"t":4.5,"v":-18},{"t":4.8,"v":-15},{"t":5.2,"v":-11.4},{"t":5.8,"v":-12},{"t":6.4,"v":-13.3},{"t":6.9,"v":-7.9},{"t":7.5,"v":-8.2},{"t":8.1,"v":-8.9},{"t":8.7,"v":-9.5},{"t":9.2,"v":-10.8},{"t":9.8,"v":-12.7},{"t":10.2,"v":-12},{"t":10.7,"v":-13.9},{"t":11.1,"v":-9.5},{"t":11.6,"v":-6.3},{"t":12.0,"v":-5.4},{"t":12.5,"v":-6.3},{"t":12.8,"v":-12.7},{"t":13.2,"v":-15.9},{"t":13.6,"v":-22},{"t":14.0,"v":-19},{"t":14.4,"v":-13},{"t":14.8,"v":-9.8},{"t":15.1,"v":-11},{"t":15.5,"v":-14},{"t":16.0,"v":-16.5},{"t":16.4,"v":-14.5},{"t":16.9,"v":-15},{"t":17.5,"v":-16},{"t":18.0,"v":-19},{"t":18.5,"v":-20.5},{"t":19.0,"v":-21.5},{"t":19.5,"v":-19},{"t":20.0,"v":-18},{"t":20.5,"v":-19},{"t":21.0,"v":-16},{"t":21.5,"v":-15},{"t":22.0,"v":-16},{"t":22.5,"v":-17},{"t":23.0,"v":-16},{"t":23.5,"v":-17.5},{"t":24.0,"v":-15},{"t":24.5,"v":-13.5},{"t":25.0,"v":-12},{"t":25.5,"v":-13},{"t":26.1,"v":-10.1},{"t":26.7,"v":-7.9},{"t":27.2,"v":-10.1},{"t":27.7,"v":-8.9},{"t":28.3,"v":-10.8},{"t":28.9,"v":-13.6},{"t":29.3,"v":-8.9},{"t":29.7,"v":-7.6},{"t":30.1,"v":-6.3},{"t":30.6,"v":-8.9},{"t":31.1,"v":-10.1},{"t":31.5,"v":-12},{"t":32.0,"v":-15.2},{"t":32.4,"v":-10.1},{"t":32.9,"v":-9.8},{"t":33.4,"v":-12.7},{"t":33.8,"v":-12},{"t":34.3,"v":-13.9},{"t":34.7,"v":-10.8},{"t":35.2,"v":-15.2},{"t":35.6,"v":-12},{"t":36.1,"v":-10.1},{"t":36.6,"v":-8.9},{"t":37.0,"v":-11.4},{"t":37.5,"v":-9.2},{"t":37.9,"v":-7.6},{"t":38.3,"v":-6.6},{"t":38.7,"v":-9.5},{"t":39.2,"v":-12},{"t":39.7,"v":-12.7},{"t":40.1,"v":-13.9},{"t":40.6,"v":-12.7},{"t":41.0,"v":-13.3},{"t":41.5,"v":-13.9},{"t":41.9,"v":-12},{"t":42.3,"v":-8.9},{"t":42.7,"v":-11.4},{"t":43.2,"v":-12.7},{"t":43.6,"v":-12},{"t":44.1,"v":-13.9},{"t":44.5,"v":-10.1},{"t":44.9,"v":-10.1},{"t":45.4,"v":-9.5},{"t":45.9,"v":-12.7},{"t":46.3,"v":-9.5},{"t":46.8,"v":-11.4},{"t":47.2,"v":-10.1},{"t":47.7,"v":-12.7},{"t":48.1,"v":-8.9},{"t":48.6,"v":-10.1},{"t":49.1,"v":-9.5},{"t":49.5,"v":-12},{"t":50.0,"v":-11.4},{"t":50.4,"v":-12.7},{"t":50.9,"v":-12},{"t":51.4,"v":-13.3},{"t":51.8,"v":-13.9},{"t":52.3,"v":-12.7},{"t":52.7,"v":-14.6},{"t":53.2,"v":-12},{"t":53.6,"v":-10.1},{"t":54.1,"v":-8.9},{"t":54.6,"v":-7.3},{"t":55.0,"v":-9.5},{"t":55.5,"v":-12},{"t":55.9,"v":-8.9},{"t":56.4,"v":-9.5},{"t":56.8,"v":-8.9},{"t":57.3,"v":-8.5},{"t":57.8,"v":-8.9},{"t":58.1,"v":-11.4},{"t":58.6,"v":-12.7},{"t":59.0,"v":-13.9},{"t":59.4,"v":-12.7},{"t":59.6,"v":-8.9},{"t":59.9,"v":-9.2},{"t":60.0,"v":-9.5}],
"dN":[{"t":-7.7,"v":-2.2},{"t":-7.3,"v":-2.8},{"t":-7.0,"v":-3.8},{"t":-6.6,"v":-2.8},{"t":-6.3,"v":-4.4},{"t":-5.9,"v":-6.6},{"t":-5.6,"v":-3.8},{"t":-5.3,"v":0.7},{"t":-4.9,"v":-1.2},{"t":-4.6,"v":-4.4},{"t":-4.2,"v":-2.5},{"t":-3.9,"v":-3.1},{"t":-3.6,"v":-1.2},{"t":-3.2,"v":0.1},{"t":-2.9,"v":-4.4},{"t":-2.5,"v":3.9},{"t":-2.2,"v":1.3},{"t":-1.8,"v":-0.6},{"t":-1.5,"v":1.7},{"t":-1.1,"v":0.7},{"t":-0.8,"v":2},{"t":-0.5,"v":1},{"t":-0.1,"v":2.6},{"t":0.2,"v":0.7},{"t":0.6,"v":3.9},{"t":0.9,"v":3.6},{"t":1.3,"v":5.2},{"t":1.6,"v":3.6},{"t":1.9,"v":2},{"t":2.3,"v":6.8},{"t":2.6,"v":10.9},{"t":3.0,"v":3.9},{"t":3.3,"v":6.4},{"t":3.6,"v":0.7},{"t":3.9,"v":-0.9},{"t":4.2,"v":2.3},{"t":4.6,"v":-1.8},{"t":4.9,"v":-4.7},{"t":5.3,"v":-2.5},{"t":5.6,"v":-3.8},{"t":6.0,"v":0.7},{"t":6.3,"v":2.9},{"t":6.6,"v":2.6},{"t":7.0,"v":-1.2},{"t":7.4,"v":2},{"t":7.8,"v":3.6},{"t":8.3,"v":6.1},{"t":8.7,"v":4.5},{"t":9.2,"v":2},{"t":9.5,"v":0.7},{"t":9.9,"v":2.6},{"t":10.2,"v":4.5},{"t":10.5,"v":2.6},{"t":10.9,"v":7.1},{"t":11.2,"v":6.4},{"t":11.6,"v":7.7},{"t":11.9,"v":6.4},{"t":12.3,"v":7.1},{"t":12.6,"v":7.7},{"t":12.8,"v":3.9},{"t":13.2,"v":-1.2},{"t":13.5,"v":-3.1},{"t":13.9,"v":-7.6},{"t":14.2,"v":-4.4},{"t":14.6,"v":-2.5},{"t":14.9,"v":-3.4},{"t":15.2,"v":-5},{"t":15.6,"v":0.1},{"t":15.9,"v":-1.2},{"t":16.3,"v":-1.8},{"t":16.6,"v":-0.6},{"t":17.0,"v":-2.5},{"t":17.3,"v":-1.2},{"t":17.7,"v":0.1},{"t":18.0,"v":-3.8},{"t":18.3,"v":1},{"t":18.7,"v":-2.5},{"t":19.0,"v":-1.8},{"t":19.4,"v":-3.4},{"t":19.7,"v":-1.2},{"t":20.1,"v":-5},{"t":20.4,"v":-3.1},{"t":20.7,"v":-4.7},{"t":21.1,"v":-1.2},{"t":21.4,"v":-3.8},{"t":21.8,"v":-8.9},{"t":22.1,"v":-6.3},{"t":22.5,"v":-4.4},{"t":22.8,"v":-2.8},{"t":23.2,"v":-3.4},{"t":23.5,"v":-4.4},{"t":23.8,"v":-6.3},{"t":24.2,"v":-4.7},{"t":24.5,"v":-5.7},{"t":24.9,"v":-7.9},{"t":25.2,"v":-5},{"t":25.6,"v":-2.5},{"t":26.1,"v":-2.5},{"t":26.6,"v":-3.8},{"t":27.0,"v":-2.8},{"t":27.4,"v":-4.4},{"t":27.9,"v":-2.5},{"t":28.3,"v":-4.7},{"t":28.7,"v":-3.1},{"t":29.1,"v":-5.7},{"t":29.5,"v":0.7},{"t":29.8,"v":-1.2},{"t":30.1,"v":0.4},{"t":30.5,"v":3.9},{"t":30.8,"v":2},{"t":31.3,"v":5.8},{"t":31.6,"v":2.6},{"t":32.0,"v":-0.9},{"t":32.3,"v":4.5},{"t":32.7,"v":5.2},{"t":33.1,"v":4.5},{"t":33.6,"v":5.8},{"t":33.9,"v":5.5},{"t":34.3,"v":-0.3},{"t":34.6,"v":3.2},{"t":35.1,"v":1.3},{"t":35.4,"v":2.9},{"t":35.9,"v":0.7},{"t":36.2,"v":-0.6},{"t":36.7,"v":6.1},{"t":37.0,"v":-0.9},{"t":37.5,"v":3.2},{"t":37.9,"v":2.6},{"t":38.4,"v":3.2},{"t":38.8,"v":7.1},{"t":39.2,"v":8.3},{"t":39.5,"v":6.4},{"t":39.9,"v":5.2},{"t":40.2,"v":2.6},{"t":40.6,"v":6.4},{"t":40.9,"v":5.2},{"t":41.3,"v":6.4},{"t":41.6,"v":3.9},{"t":41.9,"v":7.7},{"t":42.3,"v":6.4},{"t":42.6,"v":11.5},{"t":43.0,"v":7.1},{"t":43.3,"v":9.9},{"t":43.7,"v":11.8},{"t":44.0,"v":7.7},{"t":44.4,"v":9.6},{"t":44.7,"v":5.2},{"t":45.0,"v":7.7},{"t":45.4,"v":8.3},{"t":45.7,"v":7.7},{"t":46.1,"v":14.7},{"t":46.4,"v":16.6},{"t":46.8,"v":20.8},{"t":47.1,"v":12.2},{"t":47.4,"v":17.3},{"t":47.8,"v":16},{"t":48.1,"v":17.3},{"t":48.5,"v":14.7},{"t":48.8,"v":18.5},{"t":49.0,"v":21.4},{"t":49.4,"v":17.9},{"t":49.8,"v":15.4},{"t":50.1,"v":14.1},{"t":50.4,"v":10.9},{"t":50.7,"v":16},{"t":51.0,"v":19.2},{"t":51.3,"v":20.8},{"t":51.6,"v":17.3},{"t":51.9,"v":17.9},{"t":52.3,"v":14.7},{"t":52.6,"v":17.3},{"t":53.0,"v":15.4},{"t":53.3,"v":14.7},{"t":53.6,"v":13.4},{"t":54.0,"v":10.9},{"t":54.3,"v":15.4},{"t":54.7,"v":17.3},{"t":55.0,"v":19.2},{"t":55.5,"v":18.5},{"t":55.9,"v":17.3},{"t":56.3,"v":12.8},{"t":56.6,"v":12.2},{"t":57.0,"v":16},{"t":57.3,"v":20.1},{"t":57.6,"v":18.5},{"t":57.9,"v":20.4},{"t":58.3,"v":23},{"t":58.6,"v":21.7},{"t":58.9,"v":19.2},{"t":59.2,"v":16},{"t":59.6,"v":22.4},{"t":59.8,"v":23.9},{"t":59.9,"v":19.8},{"t":60.0,"v":16}]
},
"vconcat":[
{"hconcat":[
 {"title":{"text":"a","anchor":"start","frame":"bounds","fontSize":29,"fontWeight":"normal","color":"black","baseline":"alphabetic","offset":0,"dx":29,"dy":34},
  "vconcat":[{"width":426,"height":339,
   "title":{"text":"memory: smiling (pilot 1)","anchor":"middle","frame":"group","fontSize":28.8,"fontWeight":"bold","color":"black","baseline":"alphabetic","offset":18},
   "layer":[
    {"data":{"name":"aP"},"mark":{"type":"line","strokeWidth":3},"encoding":{"x":{"field":"t","type":"quantitative","scale":{"domain":[-10.72,62.72],"nice":false,"zero":false},"axis":{"values":[0,10,20,30,40,50,60],"title":"time (seconds)"}},"y":{"field":"v","type":"quantitative","scale":{"domain":[-64.8,64.8],"nice":false,"zero":false},"axis":{"values":[-60,-40,-20,0,20,40,60],"title":"zygomaticus (% of baseline)"}},"color":{"datum":"positive","scale":{"domain":["negative","positive"],"range":["#6a8fd6","#8b0000"]},"legend":null}}},
    {"data":{"name":"aN"},"mark":{"type":"line","strokeWidth":2},"encoding":{"x":{"field":"t","type":"quantitative","scale":{"domain":[-10.72,62.72],"nice":false,"zero":false},"axis":{"values":[0,10,20,30,40,50,60],"title":"time (seconds)"}},"y":{"field":"v","type":"quantitative","scale":{"domain":[-64.8,64.8],"nice":false,"zero":false},"axis":{"values":[-60,-40,-20,0,20,40,60],"title":"zygomaticus (% of baseline)"}},"color":{"datum":"negative","scale":{"domain":["negative","positive"],"range":["#6a8fd6","#8b0000"]},"legend":null}}},
    {"data":{"values":[{}]},"mark":{"type":"rule","strokeWidth":1.6,"color":"black"},"encoding":{"y":{"datum":0,"type":"quantitative","scale":{"domain":[-64.8,64.8],"nice":false,"zero":false}}}},
    {"data":{"values":[{}]},"mark":{"type":"rule","strokeWidth":2.7,"color":"black"},"encoding":{"x":{"datum":0,"type":"quantitative","scale":{"domain":[-10.72,62.72],"nice":false,"zero":false}}}},
    {"data":{"values":[{}]},"mark":{"type":"rule","strokeWidth":1.6,"color":"black"},"encoding":{"x":{"datum":10,"type":"quantitative","scale":{"domain":[-10.72,62.72],"nice":false,"zero":false}}}},
    {"data":{"values":[{}]},"mark":{"type":"rule","strokeWidth":1.6,"color":"black"},"encoding":{"x":{"datum":-10.72,"type":"quantitative","scale":{"domain":[-10.72,62.72],"nice":false,"zero":false}},"y":{"datum":-60,"type":"quantitative","scale":{"domain":[-64.8,64.8],"nice":false,"zero":false}},"y2":{"datum":60}}},
    {"data":{"values":[{}]},"mark":{"type":"rule","strokeWidth":1.6,"color":"black"},"encoding":{"y":{"datum":-64.8,"type":"quantitative","scale":{"domain":[-64.8,64.8],"nice":false,"zero":false}},"x":{"datum":0,"type":"quantitative","scale":{"domain":[-10.72,62.72],"nice":false,"zero":false}},"x2":{"datum":60}}}
   ]}],
  "resolve":{"scale":{"color":"independent"}}},
 {"title":{"text":"b","anchor":"start","frame":"bounds","fontSize":29,"fontWeight":"normal","color":"black","baseline":"alphabetic","offset":0,"dx":29,"dy":34},
  "vconcat":[{"width":426,"height":339,
   "title":{"text":"memory: frowning (pilot 1)","anchor":"middle","frame":"group","fontSize":28.8,"fontWeight":"bold","color":"black","baseline":"alphabetic","offset":18},
   "layer":[
    {"data":{"name":"bP"},"mark":{"type":"line","strokeWidth":3},"encoding":{"x":{"field":"t","type":"quantitative","scale":{"domain":[-10.72,62.72],"nice":false,"zero":false},"axis":{"values":[0,10,20,30,40,50,60],"title":"time (seconds)"}},"y":{"field":"v","type":"quantitative","scale":{"domain":[-32.4,32.4],"nice":false,"zero":false},"axis":{"values":[-30,-20,-10,0,10,20,30],"title":"corrugator (% of baseline)"}},"color":{"datum":"positive","scale":{"domain":["negative","positive"],"range":["#6a8fd6","#8b0000"]},"legend":{"title":null,"orient":"none","legendX":272,"legendY":17,"symbolType":"M-2,0H2","symbolSize":529,"symbolStrokeWidth":3,"labelFontSize":24,"labelColor":"black","labelFont":"Liberation Sans","labelOffset":28,"rowPadding":3,"padding":0}}}},
    {"data":{"name":"bN"},"mark":{"type":"line","strokeWidth":2},"encoding":{"x":{"field":"t","type":"quantitative","scale":{"domain":[-10.72,62.72],"nice":false,"zero":false},"axis":{"values":[0,10,20,30,40,50,60],"title":"time (seconds)"}},"y":{"field":"v","type":"quantitative","scale":{"domain":[-32.4,32.4],"nice":false,"zero":false},"axis":{"values":[-30,-20,-10,0,10,20,30],"title":"corrugator (% of baseline)"}},"color":{"datum":"negative","scale":{"domain":["negative","positive"],"range":["#6a8fd6","#8b0000"]},"legend":{"title":null,"orient":"none","legendX":272,"legendY":17,"symbolType":"M-2,0H2","symbolSize":529,"symbolStrokeWidth":3,"labelFontSize":24,"labelColor":"black","labelFont":"Liberation Sans","labelOffset":28,"rowPadding":3,"padding":0}}}},
    {"data":{"values":[{}]},"mark":{"type":"rule","strokeWidth":1.6,"color":"black"},"encoding":{"y":{"datum":0,"type":"quantitative","scale":{"domain":[-32.4,32.4],"nice":false,"zero":false}}}},
    {"data":{"values":[{}]},"mark":{"type":"rule","strokeWidth":2.7,"color":"black"},"encoding":{"x":{"datum":0,"type":"quantitative","scale":{"domain":[-10.72,62.72],"nice":false,"zero":false}}}},
    {"data":{"values":[{}]},"mark":{"type":"rule","strokeWidth":1.6,"color":"black"},"encoding":{"x":{"datum":10,"type":"quantitative","scale":{"domain":[-10.72,62.72],"nice":false,"zero":false}}}},
    {"data":{"values":[{}]},"mark":{"type":"rule","strokeWidth":1.6,"color":"black"},"encoding":{"x":{"datum":-10.72,"type":"quantitative","scale":{"domain":[-10.72,62.72],"nice":false,"zero":false}},"y":{"datum":-30,"type":"quantitative","scale":{"domain":[-32.4,32.4],"nice":false,"zero":false}},"y2":{"datum":30}}},
    {"data":{"values":[{}]},"mark":{"type":"rule","strokeWidth":1.6,"color":"black"},"encoding":{"y":{"datum":-32.4,"type":"quantitative","scale":{"domain":[-32.4,32.4],"nice":false,"zero":false}},"x":{"datum":0,"type":"quantitative","scale":{"domain":[-10.72,62.72],"nice":false,"zero":false}},"x2":{"datum":60}}}
   ]}],
  "resolve":{"scale":{"color":"independent"}}}
 ],"spacing":72,"resolve":{"scale":{"color":"independent"}}},
{"hconcat":[
 {"title":{"text":"c","anchor":"start","frame":"bounds","fontSize":29,"fontWeight":"normal","color":"black","baseline":"alphabetic","offset":0,"dx":29,"dy":34},
  "vconcat":[{"width":426,"height":339,
   "title":{"text":"memory: smiling (pilot 2)","anchor":"middle","frame":"group","fontSize":28.8,"fontWeight":"bold","color":"black","baseline":"alphabetic","offset":18},
   "layer":[
    {"data":{"name":"cP"},"mark":{"type":"line","strokeWidth":3},"encoding":{"x":{"field":"t","type":"quantitative","scale":{"domain":[-10.72,62.72],"nice":false,"zero":false},"axis":{"values":[0,10,20,30,40,50,60],"title":"time (seconds)"}},"y":{"field":"v","type":"quantitative","scale":{"domain":[-64.8,64.8],"nice":false,"zero":false},"axis":{"values":[-60,-40,-20,0,20,40,60],"title":"zygomaticus (% of baseline)"}},"color":{"datum":"positive","scale":{"domain":["negative","positive"],"range":["#6a8fd6","#8b0000"]},"legend":null}}},
    {"data":{"name":"cN"},"mark":{"type":"line","strokeWidth":2},"encoding":{"x":{"field":"t","type":"quantitative","scale":{"domain":[-10.72,62.72],"nice":false,"zero":false},"axis":{"values":[0,10,20,30,40,50,60],"title":"time (seconds)"}},"y":{"field":"v","type":"quantitative","scale":{"domain":[-64.8,64.8],"nice":false,"zero":false},"axis":{"values":[-60,-40,-20,0,20,40,60],"title":"zygomaticus (% of baseline)"}},"color":{"datum":"negative","scale":{"domain":["negative","positive"],"range":["#6a8fd6","#8b0000"]},"legend":null}}},
    {"data":{"values":[{}]},"mark":{"type":"rule","strokeWidth":1.6,"color":"black"},"encoding":{"y":{"datum":0,"type":"quantitative","scale":{"domain":[-64.8,64.8],"nice":false,"zero":false}}}},
    {"data":{"values":[{}]},"mark":{"type":"rule","strokeWidth":2.7,"color":"black"},"encoding":{"x":{"datum":0,"type":"quantitative","scale":{"domain":[-10.72,62.72],"nice":false,"zero":false}}}},
    {"data":{"values":[{}]},"mark":{"type":"rule","strokeWidth":1.6,"color":"black"},"encoding":{"x":{"datum":10,"type":"quantitative","scale":{"domain":[-10.72,62.72],"nice":false,"zero":false}}}},
    {"data":{"values":[{}]},"mark":{"type":"rule","strokeWidth":1.6,"color":"black"},"encoding":{"x":{"datum":-10.72,"type":"quantitative","scale":{"domain":[-10.72,62.72],"nice":false,"zero":false}},"y":{"datum":-60,"type":"quantitative","scale":{"domain":[-64.8,64.8],"nice":false,"zero":false}},"y2":{"datum":60}}},
    {"data":{"values":[{}]},"mark":{"type":"rule","strokeWidth":1.6,"color":"black"},"encoding":{"y":{"datum":-64.8,"type":"quantitative","scale":{"domain":[-64.8,64.8],"nice":false,"zero":false}},"x":{"datum":0,"type":"quantitative","scale":{"domain":[-10.72,62.72],"nice":false,"zero":false}},"x2":{"datum":60}}}
   ]}],
  "resolve":{"scale":{"color":"independent"}}},
 {"title":{"text":"d","anchor":"start","frame":"bounds","fontSize":29,"fontWeight":"normal","color":"black","baseline":"alphabetic","offset":0,"dx":29,"dy":34},
  "vconcat":[{"width":426,"height":339,
   "title":{"text":"memory: frowning (pilot 2)","anchor":"middle","frame":"group","fontSize":28.8,"fontWeight":"bold","color":"black","baseline":"alphabetic","offset":18},
   "layer":[
    {"data":{"name":"dP"},"mark":{"type":"line","strokeWidth":3},"encoding":{"x":{"field":"t","type":"quantitative","scale":{"domain":[-10.72,62.72],"nice":false,"zero":false},"axis":{"values":[0,10,20,30,40,50,60],"title":"time (seconds)"}},"y":{"field":"v","type":"quantitative","scale":{"domain":[-32.4,32.4],"nice":false,"zero":false},"axis":{"values":[-30,-20,-10,0,10,20,30],"title":"corrugator (% of baseline)"}},"color":{"datum":"positive","scale":{"domain":["negative","positive"],"range":["#6a8fd6","#8b0000"]},"legend":null}}},
    {"data":{"name":"dN"},"mark":{"type":"line","strokeWidth":2},"encoding":{"x":{"field":"t","type":"quantitative","scale":{"domain":[-10.72,62.72],"nice":false,"zero":false},"axis":{"values":[0,10,20,30,40,50,60],"title":"time (seconds)"}},"y":{"field":"v","type":"quantitative","scale":{"domain":[-32.4,32.4],"nice":false,"zero":false},"axis":{"values":[-30,-20,-10,0,10,20,30],"title":"corrugator (% of baseline)"}},"color":{"datum":"negative","scale":{"domain":["negative","positive"],"range":["#6a8fd6","#8b0000"]},"legend":null}}},
    {"data":{"values":[{}]},"mark":{"type":"rule","strokeWidth":1.6,"color":"black"},"encoding":{"y":{"datum":0,"type":"quantitative","scale":{"domain":[-32.4,32.4],"nice":false,"zero":false}}}},
    {"data":{"values":[{}]},"mark":{"type":"rule","strokeWidth":2.7,"color":"black"},"encoding":{"x":{"datum":0,"type":"quantitative","scale":{"domain":[-10.72,62.72],"nice":false,"zero":false}}}},
    {"data":{"values":[{}]},"mark":{"type":"rule","strokeWidth":1.6,"color":"black"},"encoding":{"x":{"datum":10,"type":"quantitative","scale":{"domain":[-10.72,62.72],"nice":false,"zero":false}}}},
    {"data":{"values":[{}]},"mark":{"type":"rule","strokeWidth":1.6,"color":"black"},"encoding":{"x":{"datum":-10.72,"type":"quantitative","scale":{"domain":[-10.72,62.72],"nice":false,"zero":false}},"y":{"datum":-30,"type":"quantitative","scale":{"domain":[-32.4,32.4],"nice":false,"zero":false}},"y2":{"datum":30}}},
    {"data":{"values":[{}]},"mark":{"type":"rule","strokeWidth":1.6,"color":"black"},"encoding":{"y":{"datum":-32.4,"type":"quantitative","scale":{"domain":[-32.4,32.4],"nice":false,"zero":false}},"x":{"datum":0,"type":"quantitative","scale":{"domain":[-10.72,62.72],"nice":false,"zero":false}},"x2":{"datum":60}}}
   ]}],
  "resolve":{"scale":{"color":"independent"}}}
 ],"spacing":72,"resolve":{"scale":{"color":"independent"}}}
],
"spacing":75,
"resolve":{"scale":{"color":"independent"}}
}
